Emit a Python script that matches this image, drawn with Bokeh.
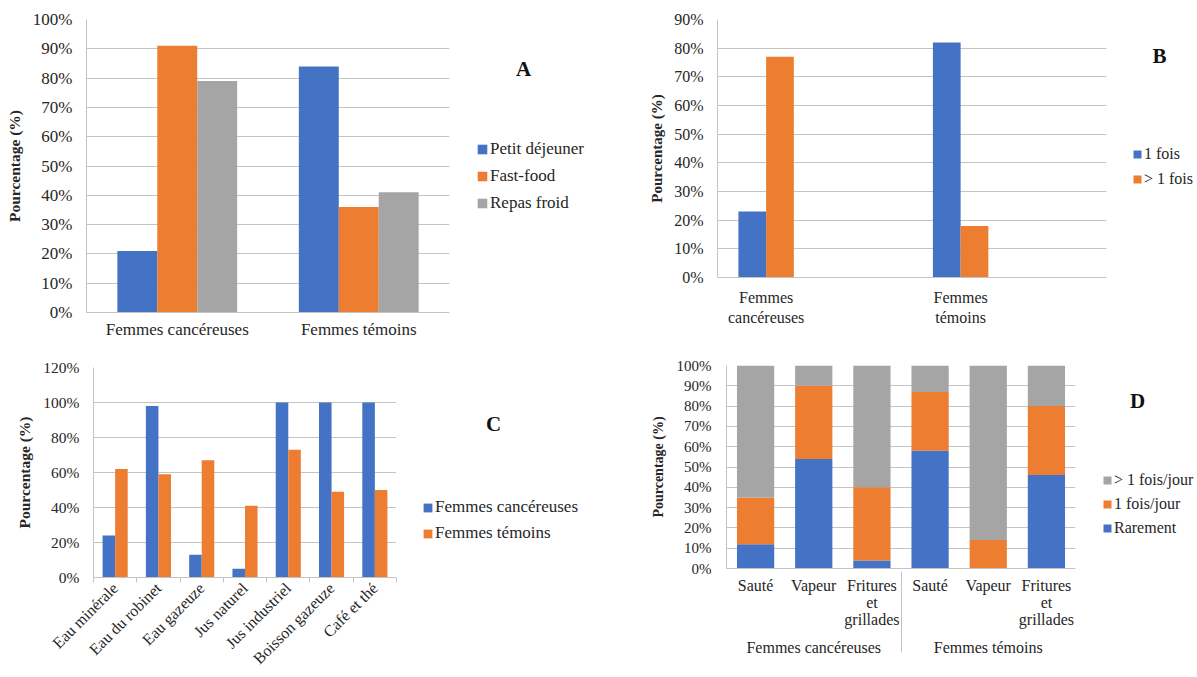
import math
from bokeh.plotting import figure
from bokeh.models import (ColumnDataSource, FactorRange, Range1d, FixedTicker, PrintfTickFormatter,
                          CustomJSTickFormatter, Legend, LegendItem, Label)
from bokeh.transform import dodge
from bokeh.layouts import column, row
from bokeh.embed import file_html
from bokeh.resources import INLINE

BLUE, ORANGE, GRAY = "#4472C4", "#ED7D31", "#A5A5A5"
FONT = "Liberation Serif"
TXT = "#262626"
GRID = "#c4c4c4"

# ---------------- data ----------------
a_groups = ["Femmes cancéreuses", "Femmes témoins"]
a_series = ["Petit déjeuner", "Fast-food", "Repas froid"]
a_petit_dejeuner = [21, 84]
a_fast_food = [91, 36]
a_repas_froid = [79, 41]

b_groups = ["Femmes\ncancéreuses", "Femmes\ntémoins"]
b_blank = [" ", "  "]
b_series = ["1 fois", "> 1 fois"]
b_une_fois = [23, 82]
b_plus_une_fois = [77, 18]

c_boissons = ["Eau minérale", "Eau du robinet", "Eau gazeuze", "Jus naturel",
              "Jus industriel", "Boisson gazeuze", "Café et thé"]
c_series = ["Femmes cancéreuses", "Femmes témoins"]
c_cancereuses = [24, 98, 13, 5, 100, 100, 100]
c_temoins = [62, 59, 67, 41, 73, 49, 50]

d_groups = ["Femmes cancéreuses", "Femmes témoins"]
d_modes = ["Sauté", "Vapeur", "Fritures\net\ngrillades"]
d_series = ["Rarement", "1 fois/jour", "> 1 fois/jour"]
d_rarement = [12, 54, 4, 58, 0, 46]
d_une_fois = [23, 36, 36, 29, 14, 34]
d_plus_une_fois = [65, 10, 60, 13, 86, 20]

H1, H2 = 342, 334


def make_fig(w, h, left, right, top, bottom, x_range, ymax, ystep,
             tick_fs, ylab_fs, tick_standoff, lab_standoff):
    p = figure(width=w, height=h, x_range=x_range, y_range=Range1d(0, ymax),
               output_backend="svg", toolbar_location=None, tools="", title=None,
               min_border_left=left, min_border_right=right,
               min_border_top=top, min_border_bottom=bottom, frame_align=False)
    p.outline_line_color = None
    p.xgrid.grid_line_color = None
    p.ygrid.grid_line_color = GRID
    ya = p.yaxis[0]
    ya.ticker = FixedTicker(ticks=list(range(0, ymax + 1, ystep)))
    ya.formatter = PrintfTickFormatter(format="%d%%")
    ya.axis_label = "Pourcentage (%)"
    ya.axis_label_text_font = FONT
    ya.axis_label_text_font_style = "bold"
    ya.axis_label_text_font_size = ylab_fs
    ya.axis_label_text_color = TXT
    ya.axis_label_standoff = lab_standoff
    ya.major_label_text_font = FONT
    ya.major_label_text_font_size = tick_fs
    ya.major_label_text_color = TXT
    ya.major_label_standoff = tick_standoff
    ya.major_tick_out = 0
    ya.major_tick_in = 0
    ya.minor_tick_out = 0
    ya.minor_tick_in = 0
    ya.major_tick_line_color = None
    ya.minor_tick_line_color = None
    ya.axis_line_color = GRID
    xa = p.xaxis[0]
    xa.axis_line_color = GRID
    xa.major_tick_out = 0
    xa.major_tick_in = 0
    xa.major_tick_line_color = None
    xa.minor_tick_line_color = None
    xa.major_label_text_font = FONT
    xa.major_label_text_color = TXT
    return p


def side_fig(w, h):
    s = figure(width=w, height=h, x_range=Range1d(0, 1), y_range=Range1d(0, 1),
               x_axis_location=None, y_axis_location=None, min_border=0,
               output_backend="svg", toolbar_location=None, tools="", title=None,
               frame_align=False)
    s.outline_line_color = None
    s.grid.visible = False
    return s


def side_legend(s, labels, colors, vx, vy, glyph, spacing, fs, letter, lx, ly):
    # zero-area proxy bars: they only carry the legend swatch colours
    rs = [s.vbar(x=[0.5], top=[0], bottom=[0], width=0.0, fill_color=c, line_color=None)
          for c in colors]
    lg = Legend(items=[LegendItem(label=l, renderers=[r]) for l, r in zip(labels, rs)],
                location=(vx, vy), orientation="vertical",
                glyph_width=glyph, glyph_height=glyph, label_height=20,
                label_standoff=2, spacing=spacing, padding=0, margin=0,
                border_line_color=None, background_fill_alpha=0,
                label_text_font=FONT, label_text_font_size=fs, label_text_color=TXT)
    s.add_layout(lg, "center")
    s.add_layout(Label(x=lx, y=ly, x_units="screen", y_units="screen", text=letter,
                       text_font=FONT, text_font_style="bold", text_font_size="21px",
                       text_color="#111111", text_align="center", text_baseline="middle"))


# ---------------- A ----------------
pA = make_fig(455, H1, 86, 6, 19, 30, FactorRange(factors=a_groups), 100, 10,
              "17px", "15.5px", 14, 7)
pA.xaxis.major_label_text_font_size = "17px"
pA.xaxis.major_label_standoff = 7
srcA = ColumnDataSource(dict(g=a_groups, s1=a_petit_dejeuner, s2=a_fast_food, s3=a_repas_froid))
for col, off, colr in [("s1", -0.22, BLUE), ("s2", 0.0, ORANGE), ("s3", 0.22, GRAY)]:
    pA.vbar(x=dodge("g", off, range=pA.x_range), top=col, width=0.22,
            source=srcA, fill_color=colr, line_color=None)
sA = side_fig(135, H1)
side_legend(sA, a_series, [BLUE, ORANGE, GRAY], 21, 129, 12, 7, "17px", "A", 68, 274)

# ---------------- B ----------------
b_factors = [f for pair in zip(b_groups, b_blank) for f in pair]
pB = make_fig(522, H1, 127, 6, 19, 65, FactorRange(factors=b_factors), 90, 10,
              "16px", "15px", 14, 6)
pB.xaxis.major_label_text_font_size = "16px"
pB.xaxis.major_label_standoff = 11
srcB = ColumnDataSource(dict(g=b_groups, s1=b_une_fois, s2=b_plus_une_fois))
for col, off, colr in [("s1", -0.1425, BLUE), ("s2", 0.1425, ORANGE)]:
    pB.vbar(x=dodge("g", off, range=pB.x_range), top=col, width=0.285,
            source=srcB, fill_color=colr, line_color=None)
sB = side_fig(84, H1)
side_legend(sB, b_series, [BLUE, ORANGE], 20, 153, 10, 5, "16px", "B", 47, 287)

# ---------------- C ----------------
n_c = len(c_boissons)
pC = make_fig(402, H2, 93, 6, 25, 92, Range1d(0, n_c), 120, 20,
              "15.5px", "15.5px", 14, 7)
c_pos = [i + 0.5 for i in range(n_c)]
xaC = pC.xaxis[0]
xaC.ticker = FixedTicker(ticks=c_pos, minor_ticks=list(range(n_c + 1)))
xaC.formatter = CustomJSTickFormatter(args=dict(names=c_boissons),
                                      code="return names[Math.floor(tick)] || '';")
xaC.minor_tick_line_color = GRID
xaC.minor_tick_out = 5
xaC.minor_tick_in = 0
xaC.major_label_orientation = math.pi / 4
xaC.major_label_text_font_size = "16px"
xaC.major_label_standoff = 3
srcC = ColumnDataSource(dict(x=c_pos, s1=c_cancereuses, s2=c_temoins))
for col, off, colr in [("s1", -0.145, BLUE), ("s2", 0.145, ORANGE)]:
    pC.vbar(x=dodge("x", off), top=col, width=0.29,
            source=srcC, fill_color=colr, line_color=None)
sC = side_fig(188, H2)
side_legend(sC, c_series, [BLUE, ORANGE], 20, 133, 11, 6, "17px", "C", 91, 253)

# ---------------- D ----------------
d_x = [(g, m) for g in d_groups for m in d_modes]
d_range = FactorRange(factors=d_x, group_padding=0, factor_padding=0, subgroup_padding=0)
pD = make_fig(491, H2, 136, 6, 23, 108, d_range, 100, 10,
              "15px", "14px", 15, 8)
xaD = pD.xaxis[0]
xaD.major_label_text_font_size = "16px"
xaD.major_label_text_line_height = 1.0
xaD.major_label_standoff = 8
xaD.group_text_font = FONT
xaD.group_text_font_size = "16px"
xaD.group_text_font_style = "normal"
xaD.group_text_color = TXT
xaD.separator_line_color = GRID
xaD.separator_line_width = 1
srcD = ColumnDataSource(dict(x=d_x, rare=d_rarement, once=d_une_fois, more=d_plus_une_fois))
pD.vbar_stack(["rare", "once", "more"], x="x", width=0.64, source=srcD,
              fill_color=[BLUE, ORANGE, GRAY], line_color=None)
sD = side_fig(115, H2)
side_legend(sD, list(reversed(d_series)), [GRAY, ORANGE, BLUE], 21, 138, 10, 4, "16px",
            "D", 56, 276)

layout = column(row(pA, sA, pB, sB), row(pC, sC, pD, sD))
open("out.html", "w").write(file_html(layout, INLINE))
